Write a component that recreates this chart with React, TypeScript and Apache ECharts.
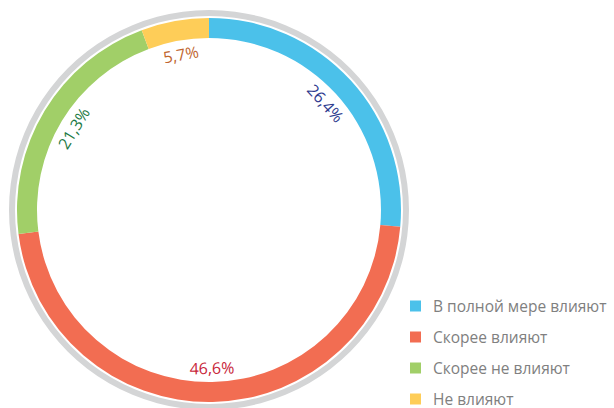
import React, { useEffect, useRef } from "react";
import * as echarts from "echarts";

const categories = ["В полной мере влияют", "Скорее влияют", "Скорее не влияют", "Не влияют"];
const values = [26.4, 46.6, 21.3, 5.7];
const colors = ["#4bc1ea", "#f26d52", "#a1cf68", "#fecd58"];
const labelColors = ["#2f3c8f", "#c8263a", "#1d7a45", "#c0652e"];

export default function App() {
  const ref = useRef<HTMLDivElement>(null);
  useEffect(() => {
    document.body.style.margin = "0";
    const chart = echarts.init(ref.current!, null, { renderer: "svg" });
    const data = categories.map((name, i) => ({
      name,
      value: values[i],
      itemStyle: { color: colors[i] },
    }));
    const labelData = categories.map((name, i) => ({
      name,
      value: values[i],
      itemStyle: { color: "rgba(0,0,0,0)" },
      label: { color: labelColors[i] },
    }));
    chart.setOption({
      animation: false,
      legend: {
        orient: "vertical",
        left: 410,
        top: 298,
        width: 204,
        height: 130,
        padding: 0,
        itemWidth: 11,
        itemHeight: 11,
        itemGap: 15,
        icon: "rect",
        data: categories,
        selectedMode: false,
        textStyle: {
          color: "#808080",
          fontSize: 15.5,
          lineHeight: 15,
          fontFamily: "Open Sans",
          padding: [0, 0, 0, 7],
        },
      },
      series: [
        {
          type: "pie",
          radius: [194, 200],
          center: [209, 210],
          silent: true,
          label: { show: false },
          labelLine: { show: false },
          data: [{ name: "", value: 1, itemStyle: { color: "#d4d5d6" } }],
        },
        {
          type: "pie",
          radius: [172, 192],
          center: [209, 210],
          startAngle: 90,
          clockwise: true,
          silent: true,
          label: { show: false },
          labelLine: { show: false },
          data,
        },
        {
          type: "pie",
          radius: [140, 170],
          center: [209, 210],
          startAngle: 90,
          clockwise: true,
          silent: true,
          label: {
            show: true,
            position: "inside",
            rotate: "tangential",
            fontSize: 16,
            fontFamily: "Open Sans",
            formatter: (p: any) => String(p.value).replace(".", ",") + "%",
          },
          labelLine: { show: false },
          data: labelData,
        },
      ],
    });
    return () => chart.dispose();
  }, []);
  return <div ref={ref} style={{ width: 614, height: 408 }} />;
}
